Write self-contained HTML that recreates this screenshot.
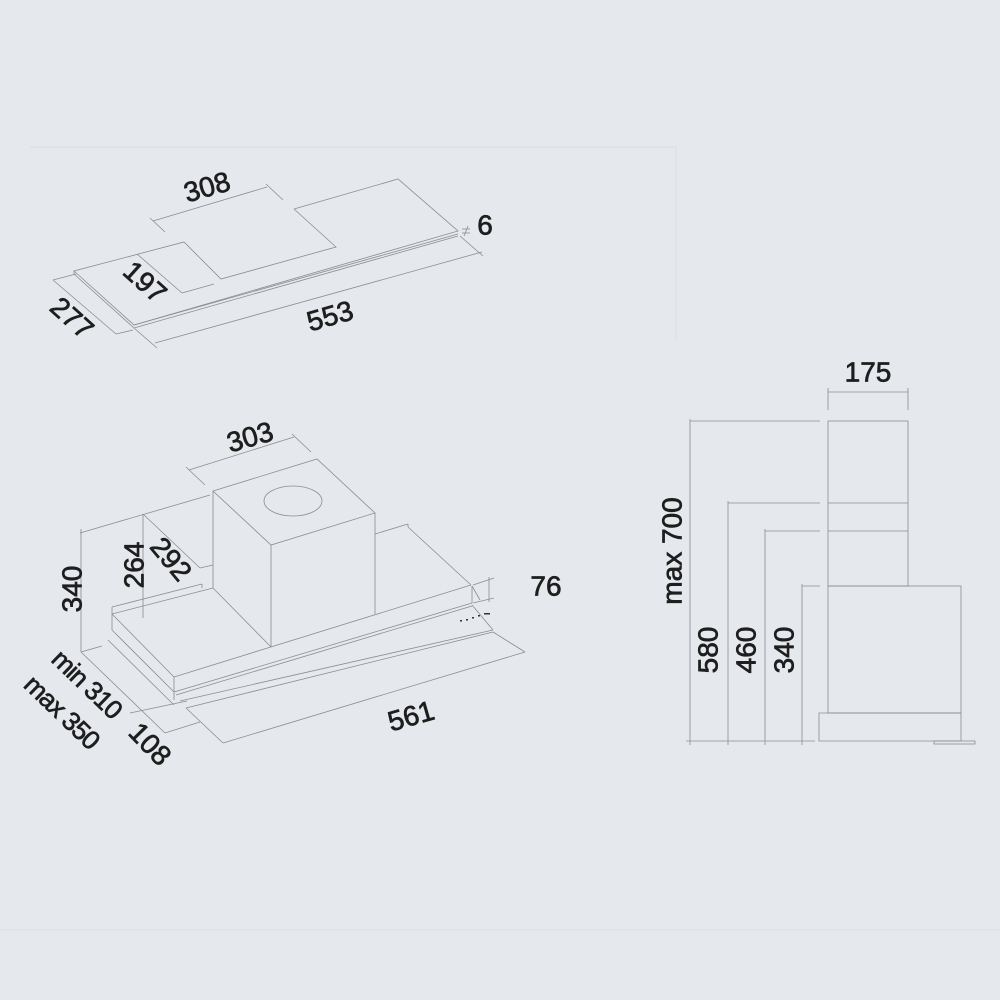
<!DOCTYPE html>
<html><head><meta charset="utf-8"><style>
html,body{margin:0;padding:0;background:#e5e8ec;}
svg{display:block}
text{font-family:"Liberation Sans",sans-serif;font-size:28px;fill:#1e1e1e;stroke:#1e1e1e;stroke-width:0.7;text-anchor:middle;dominant-baseline:central}
</style></head><body>
<svg width="1000" height="1000" viewBox="0 0 1000 1000" xmlns="http://www.w3.org/2000/svg">
<rect width="1000" height="1000" fill="#e5e8ec"/>
<g stroke="#dcdfe4" stroke-width="1" fill="none">
<line x1="30" y1="147" x2="676" y2="147"/><line x1="676" y1="147" x2="676" y2="340"/>
<line x1="0" y1="930" x2="1000" y2="930"/>
</g>
<g stroke="#8a8d92" stroke-width="0.8" fill="none">
<polyline points="294,209 398,179 458,231 134,325 74,271 184,242 221,279 336,247 294,209"/>
<line x1="134" y1="325" x2="458" y2="234"/>
<line x1="134" y1="328" x2="458" y2="236"/>
<line x1="74" y1="271" x2="74" y2="274"/><line x1="74" y1="274" x2="134" y2="328"/>
<line x1="153" y1="221" x2="267" y2="187"/>
<line x1="150" y1="218" x2="165" y2="232"/><line x1="266" y1="184" x2="283" y2="200"/>
<line x1="137" y1="254" x2="182" y2="293"/><line x1="182" y1="293" x2="214" y2="284"/>
<line x1="53" y1="280" x2="116" y2="334"/><line x1="53" y1="280" x2="76" y2="274"/><line x1="116" y1="334" x2="133" y2="330"/>
<line x1="155" y1="343" x2="482" y2="252"/><line x1="134" y1="328" x2="157" y2="348"/><line x1="460" y1="236" x2="483" y2="256"/>
<line x1="462" y1="229" x2="470" y2="229"/><line x1="462" y1="233" x2="470" y2="233"/><line x1="468" y1="226" x2="464" y2="236"/>
<polygon points="213,491 317,459 375,513 271,545"/>
<line x1="213" y1="491" x2="213" y2="588"/><line x1="271" y1="545" x2="271" y2="647"/><line x1="375" y1="513" x2="375" y2="614"/>
<line x1="213" y1="588" x2="271" y2="647"/>
<ellipse cx="293" cy="501" rx="29" ry="15"/>
<line x1="112" y1="614" x2="213" y2="588"/><line x1="112" y1="607" x2="202" y2="584"/><line x1="202" y1="584" x2="202" y2="588"/>
<line x1="112" y1="607" x2="112" y2="614"/>
<line x1="375" y1="534" x2="408" y2="524"/><line x1="408" y1="524" x2="408" y2="527"/>
<line x1="408" y1="527" x2="471" y2="585"/>
<line x1="174" y1="677" x2="471" y2="585"/>
<line x1="112" y1="614" x2="174" y2="677"/>
<line x1="112" y1="614" x2="112" y2="630"/><line x1="112" y1="630" x2="174" y2="692"/>
<line x1="108" y1="640" x2="174" y2="705"/><line x1="174" y1="677" x2="174" y2="700"/>
<line x1="174" y1="692" x2="472" y2="603"/><line x1="176" y1="695" x2="472" y2="606"/>
<line x1="180" y1="701" x2="493" y2="630"/><line x1="186" y1="708" x2="493" y2="632"/>
<line x1="472" y1="586" x2="472" y2="603"/><line x1="472" y1="605" x2="493" y2="630"/>
<line x1="472" y1="586" x2="480" y2="600"/>
<line x1="189" y1="470" x2="294" y2="437"/><line x1="186" y1="467" x2="205" y2="485"/><line x1="292" y1="434" x2="311" y2="452"/>
<line x1="80" y1="533" x2="210" y2="495"/>
<line x1="81" y1="529" x2="81" y2="652"/><line x1="81" y1="652" x2="102" y2="646"/>
<line x1="143" y1="514" x2="143" y2="618"/>
<line x1="143" y1="514" x2="200" y2="568"/><line x1="200" y1="568" x2="213" y2="565"/>
<line x1="473" y1="585" x2="494" y2="578"/><line x1="473" y1="603" x2="494" y2="598"/>
<line x1="489" y1="577" x2="489" y2="602"/>
<line x1="81" y1="652" x2="165" y2="733"/>
<line x1="130" y1="713" x2="187" y2="701"/><line x1="165" y1="733" x2="200" y2="722"/>
<line x1="186" y1="708" x2="223" y2="743"/><line x1="223" y1="743" x2="525" y2="652"/>
<line x1="493" y1="632" x2="525" y2="652"/>
<line x1="828" y1="392" x2="908" y2="392"/><line x1="828" y1="388" x2="828" y2="410"/><line x1="908" y1="388" x2="908" y2="410"/>
<rect x="828" y="421" width="80" height="165"/>
<line x1="828" y1="503" x2="908" y2="503"/><line x1="828" y1="531" x2="908" y2="531"/>
<rect x="828" y="586" width="133" height="127"/>
<path d="M819,713 L961,713 L961,741 L819,741 Z"/>
<rect x="934" y="741" width="41" height="3"/>
<line x1="690" y1="421" x2="820" y2="421"/><line x1="690" y1="419" x2="690" y2="745"/>
<line x1="728" y1="503" x2="820" y2="503"/><line x1="728" y1="501" x2="728" y2="745"/>
<line x1="765" y1="531" x2="820" y2="531"/><line x1="765" y1="529" x2="765" y2="745"/>
<line x1="802" y1="586" x2="820" y2="586"/><line x1="802" y1="584" x2="802" y2="745"/>
<line x1="686" y1="741" x2="815" y2="741"/>
</g>
<g fill="#333"><rect x="460" y="620" width="2" height="1.5"/><rect x="466" y="619" width="2" height="1.5"/><rect x="472" y="617" width="2" height="1.5"/><rect x="478" y="615" width="2" height="1.5"/><rect x="484" y="613" width="6" height="1.5"/></g>
<text transform="translate(207,187) rotate(-16)">308</text>
<text x="485" y="225">6</text>
<text transform="translate(145,282) rotate(42)">197</text>
<text transform="translate(72,318) rotate(42)">277</text>
<text transform="translate(330,316) rotate(-16)">553</text>
<text transform="translate(250,437) rotate(-16)">303</text>
<text transform="translate(72,589) rotate(-90)">340</text>
<text transform="translate(134,565) rotate(-90)">264</text>
<text transform="translate(171,559) rotate(50)">292</text>
<text x="546" y="586">76</text>
<text transform="translate(411,716) rotate(-16)">561</text>
<text transform="translate(150,744) rotate(46)">108</text>
<text transform="translate(87,684) rotate(44)" style="font-size:26px;letter-spacing:-1px">min 310</text>
<text transform="translate(62,712) rotate(44)" style="font-size:26px;letter-spacing:-1px">max 350</text>
<text x="868" y="372">175</text>
<text transform="translate(672,551) rotate(-90)">max 700</text>
<text transform="translate(708,650) rotate(-90)">580</text>
<text transform="translate(746,650) rotate(-90)">460</text>
<text transform="translate(784,650) rotate(-90)">340</text>
</svg>
</body></html>
